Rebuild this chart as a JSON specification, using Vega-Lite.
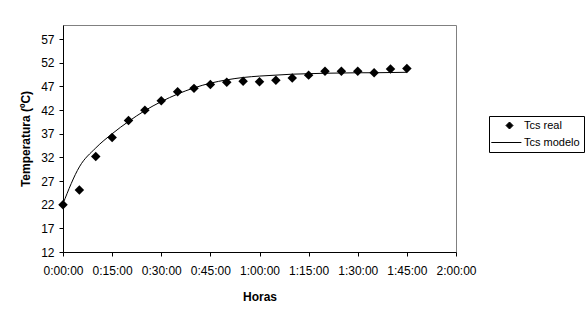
{
  "$schema": "https://vega.github.io/schema/vega-lite/v6.json",
  "autosize": {"type": "none"},
  "padding": {"left": 63, "top": 25, "right": 132, "bottom": 68},
  "width": 393,
  "height": 227,
  "background": "white",
  "config": {
    "font": "Liberation Sans",
    "view": {"stroke": "#808080", "strokeWidth": 1},
    "axis": {
      "grid": false,
      "domainColor": "black",
      "tickColor": "black",
      "labelColor": "black",
      "titleColor": "black",
      "labelFont": "Liberation Sans",
      "titleFont": "Liberation Sans",
      "labelFontSize": 12,
      "titleFontSize": 12,
      "titleFontWeight": "bold",
      "tickSize": 4
    },
    "legend": {
      "title": null,
      "orient": "none",
      "legendX": 426,
      "legendY": 91,
      "strokeColor": "black",
      "fillColor": "white",
      "padding": 4,
      "labelFontSize": 11,
      "labelFont": "Liberation Sans",
      "labelColor": "black",
      "rowPadding": 5,
      "symbolSize": 49,
      "symbolStrokeWidth": 1,
      "symbolOffset": 11,
      "labelOffset": 9
    }
  },
  "data": {
    "values": [
      {"min": 0, "serie": "Tcs real", "temp": 22.0},
      {"min": 5, "serie": "Tcs real", "temp": 25.1},
      {"min": 10, "serie": "Tcs real", "temp": 32.2},
      {"min": 15, "serie": "Tcs real", "temp": 36.2},
      {"min": 20, "serie": "Tcs real", "temp": 39.8},
      {"min": 25, "serie": "Tcs real", "temp": 42.0},
      {"min": 30, "serie": "Tcs real", "temp": 44.0},
      {"min": 35, "serie": "Tcs real", "temp": 45.9},
      {"min": 40, "serie": "Tcs real", "temp": 46.6},
      {"min": 45, "serie": "Tcs real", "temp": 47.4},
      {"min": 50, "serie": "Tcs real", "temp": 47.9},
      {"min": 55, "serie": "Tcs real", "temp": 48.1},
      {"min": 60, "serie": "Tcs real", "temp": 48.0},
      {"min": 65, "serie": "Tcs real", "temp": 48.3},
      {"min": 70, "serie": "Tcs real", "temp": 48.8},
      {"min": 75, "serie": "Tcs real", "temp": 49.4},
      {"min": 80, "serie": "Tcs real", "temp": 50.2},
      {"min": 85, "serie": "Tcs real", "temp": 50.2},
      {"min": 90, "serie": "Tcs real", "temp": 50.2},
      {"min": 95, "serie": "Tcs real", "temp": 49.9},
      {"min": 100, "serie": "Tcs real", "temp": 50.7},
      {"min": 105, "serie": "Tcs real", "temp": 50.8},
      {"min": 0, "serie": "Tcs modelo", "temp": 22.2},
      {"min": 5, "serie": "Tcs modelo", "temp": 30.0},
      {"min": 10, "serie": "Tcs modelo", "temp": 34.0},
      {"min": 15, "serie": "Tcs modelo", "temp": 37.0},
      {"min": 20, "serie": "Tcs modelo", "temp": 39.6},
      {"min": 25, "serie": "Tcs modelo", "temp": 41.9},
      {"min": 30, "serie": "Tcs modelo", "temp": 43.8},
      {"min": 35, "serie": "Tcs modelo", "temp": 45.4},
      {"min": 40, "serie": "Tcs modelo", "temp": 46.7},
      {"min": 45, "serie": "Tcs modelo", "temp": 47.7},
      {"min": 50, "serie": "Tcs modelo", "temp": 48.4},
      {"min": 55, "serie": "Tcs modelo", "temp": 48.9},
      {"min": 60, "serie": "Tcs modelo", "temp": 49.2},
      {"min": 65, "serie": "Tcs modelo", "temp": 49.4},
      {"min": 70, "serie": "Tcs modelo", "temp": 49.6},
      {"min": 75, "serie": "Tcs modelo", "temp": 49.7},
      {"min": 80, "serie": "Tcs modelo", "temp": 49.8},
      {"min": 85, "serie": "Tcs modelo", "temp": 49.85},
      {"min": 90, "serie": "Tcs modelo", "temp": 49.9},
      {"min": 95, "serie": "Tcs modelo", "temp": 49.9},
      {"min": 100, "serie": "Tcs modelo", "temp": 49.95},
      {"min": 105, "serie": "Tcs modelo", "temp": 50.0}
    ]
  },
  "encoding": {
    "x": {
      "field": "min",
      "type": "quantitative",
      "scale": {"domain": [0, 120], "nice": false, "zero": false},
      "axis": {
        "title": "Horas",
        "values": [0, 15, 30, 45, 60, 75, 90, 105, 120],
        "labelExpr": "floor(datum.value/60) + ':' + (datum.value%60 < 10 ? '0' : '') + (datum.value%60) + ':00'",
        "labelPadding": 9,
        "titlePadding": 15,
        "labelFlush": false
      }
    },
    "y": {
      "field": "temp",
      "type": "quantitative",
      "scale": {"domain": [12, 60], "nice": false, "zero": false},
      "axis": {
        "title": "Temperatura (ºC)",
        "values": [12, 17, 22, 27, 32, 37, 42, 47, 52, 57],
        "labelPadding": 5,
        "titlePadding": 8,
        "labelFlush": false
      }
    },
    "color": {
      "field": "serie",
      "type": "nominal",
      "scale": {"domain": ["Tcs real", "Tcs modelo"], "range": ["black", "black"]},
      "legend": {}
    },
    "shape": {
      "field": "serie",
      "type": "nominal",
      "scale": {"domain": ["Tcs real", "Tcs modelo"], "range": ["diamond", "M-5.2,0H3.4"]},
      "legend": {}
    }
  },
  "layer": [
    {
      "transform": [{"filter": "datum.serie === 'Tcs modelo'"}],
      "mark": {"type": "line", "strokeWidth": 1, "interpolate": "monotone"}
    },
    {
      "transform": [{"filter": "datum.serie === 'Tcs real'"}],
      "mark": {"type": "point", "filled": true, "size": 90, "opacity": 1}
    }
  ]
}
